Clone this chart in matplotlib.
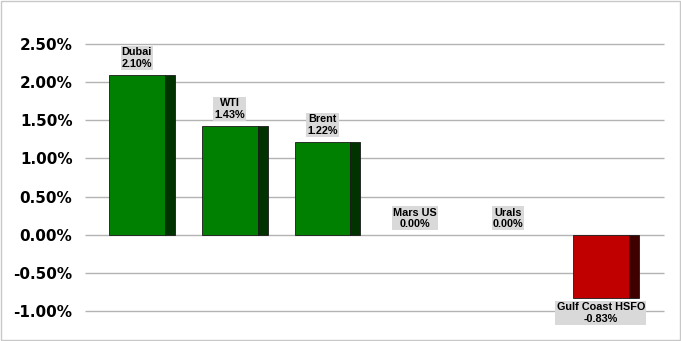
import matplotlib
matplotlib.use("Agg")
import matplotlib.pyplot as plt
import numpy as np

# crude price changes
grades = ["Dubai", "WTI", "Brent", "Mars US", "Urals", "Gulf Coast HSFO"]
changes = [2.10, 1.43, 1.22, 0.00, 0.00, -0.83]
yticks = [-1.0, -0.5, 0.0, 0.5, 1.0, 1.5, 2.0, 2.5]

fig = plt.figure(figsize=(6.81, 3.41), dpi=100)
ax = fig.add_axes([0.1248, 0.088, 0.850, 0.783])

x = np.arange(len(grades))
w = 0.60
side = 0.108
front_cols = ["#008000" if v >= 0 else "#c00000" for v in changes]
side_cols = ["#003300" if v >= 0 else "#3f0000" for v in changes]
lws = [0.6 if v != 0 else 0 for v in changes]

ax.bar(x, changes, width=w, color=front_cols, edgecolor="#1a1a1a", linewidth=lws, zorder=3)
ax.bar(x + w / 2 + side / 2, changes, width=side, color=side_cols, edgecolor="#1a1a1a", linewidth=lws, zorder=3)

for xi, name, v in zip(x, grades, changes):
    txt = "%s\n%.2f%%" % (name, v)
    if v < 0:
        off, va = -3, "top"
    else:
        off, va = 4, "bottom"
    ax.annotate(txt, (xi, v), xytext=(0, off), textcoords="offset points",
                ha="center", va=va, fontsize=7.8, fontweight="bold",
                family="Liberation Sans", linespacing=1.2,
                bbox=dict(boxstyle="square,pad=0.1", fc="#d9d9d9", ec="none"),
                annotation_clip=False, zorder=4)

ax.set_xlim(-0.56, 5.68)
ax.set_ylim(-1.0, 2.5)
ax.set_yticks(yticks)
ax.set_yticklabels(["%.2f%%" % t for t in yticks], fontsize=11, fontweight="bold")
ax.set_xticks([])
ax.tick_params(axis="y", length=0, pad=9)
ax.hlines(yticks, -0.56, 5.68, color="#b3b3b3", linewidth=1.0, zorder=0, clip_on=False)
for s in ax.spines.values():
    s.set_visible(False)

# outer border
fig.patches.append(plt.Rectangle((0.002, 0.003), 0.996, 0.994, transform=fig.transFigure,
                                 fill=False, ec="#c8c8c8", lw=1.0))

fig.savefig("out.png", dpi=100)
